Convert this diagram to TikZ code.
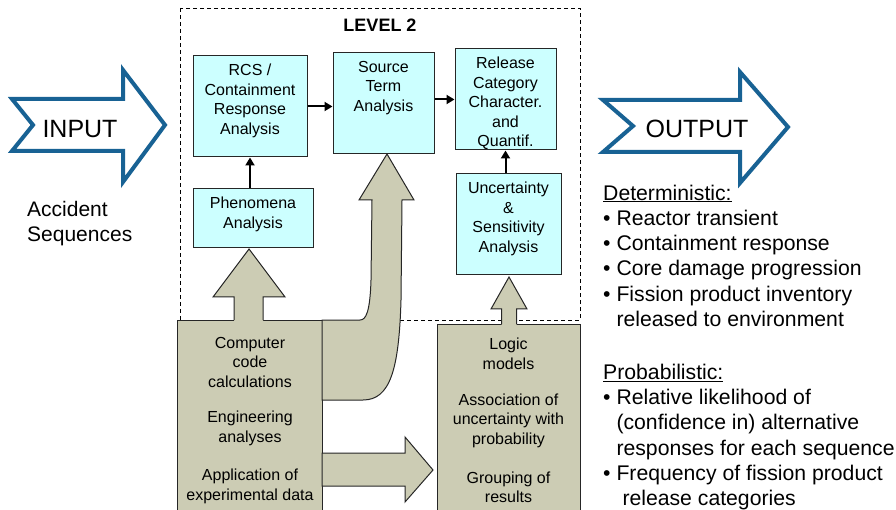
\documentclass[tikz,border=0pt]{standalone}
\usepackage{fontspec}
\setmainfont{Liberation Sans}
\usepackage{tikz}
\usetikzlibrary{arrows.meta,positioning}
\definecolor{BoxCyan}{RGB}{204,255,255}
\definecolor{ToolGray}{RGB}{204,204,180}
\definecolor{FlowBlue}{RGB}{24,98,148}

\tikzset{
  cbox/.style={draw=black!85, line width=1pt, fill=BoxCyan, inner sep=0pt},
  ctext/.style={align=center, inner sep=0pt, font=\fontsize{16}{19.5}\selectfont},
  gbox/.style={draw=black!85, line width=1pt, fill=ToolGray, inner sep=0pt},
  gshape/.style={draw=black!85, line width=1pt, fill=ToolGray, line join=miter},
  flow/.style={-{Triangle[length=8pt,width=9pt]}, line width=2pt},
  bigarrow/.style={draw=FlowBlue, line width=4pt, fill=white, line join=miter, miter limit=10},
}

\begin{document}
\begin{tikzpicture}[x=1pt, y=-1pt]
\clip (0,0) rectangle (896,510);
\draw[dash pattern=on 4pt off 3pt, line width=0.9pt] (180,8) rectangle (580,320);
\node[font=\fontsize{18}{21}\selectfont\bfseries] (lvl) at (380,25) {LEVEL 2};

\node[cbox, minimum width=114, minimum height=101] (rcs) at (250,106.5) {};
\node[cbox, minimum width=101, minimum height=101] (src) at (383.5,103.5) {};
\node[cbox, minimum width=101, minimum height=101] (rel) at (505.5,99.5) {};
\node[cbox, minimum width=120, minimum height=59] (phen) at (253,218.5) {};
\node[cbox, minimum width=105, minimum height=101] (unc) at (508.5,224.5) {};
\node[ctext, below=8.3pt of rcs.north] (rcst) {RCS /\\Containment\\Response\\Analysis};
\node[ctext, below=8.3pt of src.north] (srct) {Source\\Term\\Analysis};
\node[ctext, below=8.3pt of rel.north] (relt) {Release\\Category\\Character.\\and\\Quantif.};
\node[ctext, below=8.3pt of phen.north] (phent) {Phenomena\\Analysis};
\node[ctext, below=8.3pt of unc.north] (unct) {Uncertainty\\\&\\Sensitivity\\Analysis};

\draw[flow] (rcs.east) -- (src.west |- rcs.east);
\draw[flow] (src.east |- rel.west) -- (rel.west);
\draw[flow] (rcs.south |- phen.north) -- (rcs.south);
\draw[flow] (rel.south |- unc.north) -- (rel.south);

\node[gbox, anchor=north west, minimum width=145, minimum height=200] (tools) at (177,320) {};
\node[gbox, anchor=north west, minimum width=143, minimum height=196] (quant) at (437,324) {};

\fill[ToolGray] (234,321) -- (234,297) -- (213,297) -- (249,249) -- (285,297) -- (263,297) -- (263,321) -- cycle;
\draw[black!85, line width=1pt, line join=miter] (234,320) -- (234,297) -- (213,297) -- (249,249) -- (285,297) -- (263,297) -- (263,320);
\fill[ToolGray] (501.5,325) -- (501.5,309) -- (491,309) -- (509,277) -- (527,309) -- (516.5,309) -- (516.5,325) -- cycle;
\draw[black!85, line width=1pt, line join=miter] (501.5,324) -- (501.5,309) -- (491,309) -- (509,277) -- (527,309) -- (516.5,309) -- (516.5,324);
\draw[gshape] (322,320) -- (360,320) .. controls (366,320) and (370,312) .. (371,280) -- (372,200) -- (359,200) -- (387,154) -- (414,200) -- (402,200) -- (401,300) .. controls (399,370) and (390,400) .. (363,400) -- (322,400) -- cycle;
\draw[gshape] (322,453) -- (405,453) -- (405,437) -- (433,470) -- (405,502) -- (405,486) -- (322,486) -- cycle;

\node[ctext] (cmp) at (250,362) {Computer\\code\\calculations};
\node[ctext] (eng) at (250,428.5) {Engineering\\analyses};
\node[ctext] (app) at (250,486.5) {Application of\\experimental data};
\node[ctext] (lgc) at (508.5,354) {Logic\\models};
\node[ctext] (asc) at (508.5,420.5) {Association of\\uncertainty with\\probability};
\node[ctext] (grp) at (508.5,487.5) {Grouping of\\results};

\draw[bigarrow] (12,99) -- (123,99) -- (123,70) -- (165,125) -- (123,182) -- (123,151) -- (12,151) -- (33,125) -- cycle;
\node[font=\fontsize{25}{30}\selectfont] (inp) at (80,129) {INPUT};
\draw[bigarrow] (603,100) -- (740,100) -- (740,72) -- (788,127) -- (740,183) -- (740,152) -- (603,152) -- (633,126) -- cycle;
\node[font=\fontsize{25}{30}\selectfont] (outp) at (697,129) {OUTPUT};

\node[anchor=north west, align=left, inner sep=0pt, font=\fontsize{21}{25}\selectfont] (acc) at (27,200.7) {Accident\\Sequences};
\node[anchor=north west, align=left, inner sep=0pt, font=\fontsize{21.2}{25.3}\selectfont] (outl) at (603,184.5) {\underline{Deterministic:}\\
• Reactor transient\\
• Containment response\\
• Core damage progression\\
• Fission product inventory\\
\phantom{• }released to environment\\[27.5pt]
\underline{Probabilistic:}\\
• Relative likelihood of\\
\phantom{• }(confidence in) alternative\\
\phantom{• }responses for each sequence\\
• Frequency of fission product\\
\phantom{• }\hspace*{6pt}release categories};
\end{tikzpicture}
\end{document}
